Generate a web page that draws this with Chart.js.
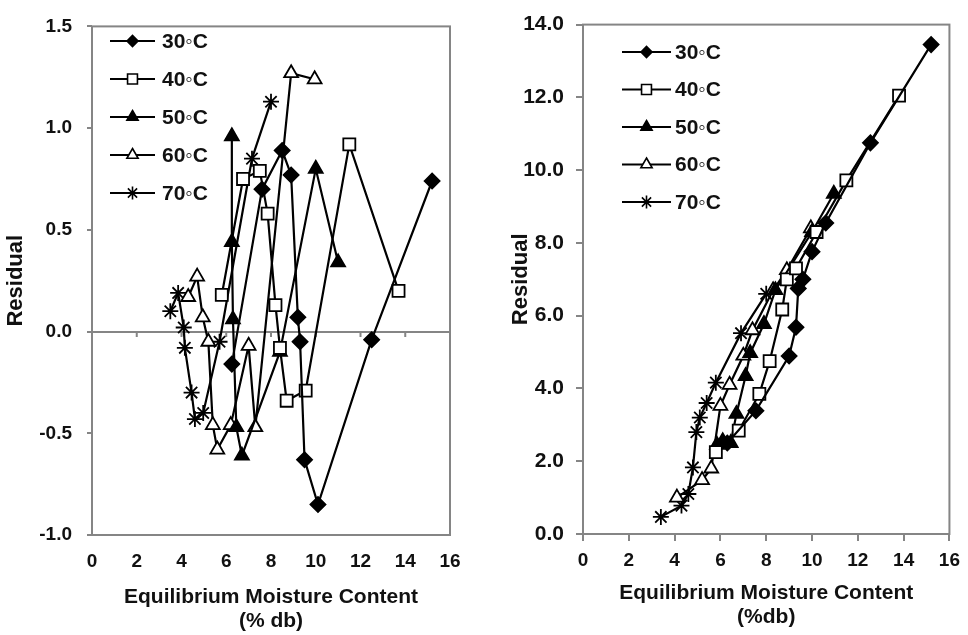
<!DOCTYPE html>
<html><head><meta charset="utf-8">
<script src="https://cdn.jsdelivr.net/npm/chart.js@4.4.1/dist/chart.umd.min.js"></script>
<style>
html,body{margin:0;padding:0;background:#fff;}
#wrap{position:relative;width:968px;height:635px;overflow:hidden;background:#fff;}
canvas{position:absolute;top:0;}
#c1{left:0}
#c2{left:484px}
</style></head><body>
<div id="wrap"><canvas id="c1" width="484" height="635"></canvas><canvas id="c2" width="484" height="635"></canvas></div>
<script>
// ---- labels / ticks ----
const seriesLabels = ['30\u25E6C', '40\u25E6C', '50\u25E6C', '60\u25E6C', '70\u25E6C'];
const xTitleLeft = ['Equilibrium Moisture Content', '(% db)'];
const xTitleRight = ['Equilibrium Moisture Content', '(%db)'];
const yTitle = 'Residual';

// ---- left panel: residuals ----
const resX30 = [6.25, 7.6, 8.5, 8.9, 9.2, 9.3, 9.5, 10.1, 12.5, 15.2];
const resY30 = [-0.16, 0.70, 0.89, 0.77, 0.07, -0.05, -0.63, -0.85, -0.04, 0.74];
const resX40 = [5.8, 6.75, 7.5, 7.85, 8.2, 8.4, 8.7, 9.55, 11.5, 13.7];
const resY40 = [0.18, 0.75, 0.79, 0.58, 0.13, -0.08, -0.34, -0.29, 0.92, 0.20];
const resX50 = [6.25, 6.25, 6.3, 6.45, 6.7, 8.4, 10.0, 11.0];
const resY50 = [0.96, 0.44, 0.06, -0.47, -0.61, -0.10, 0.80, 0.34];
const resX60 = [4.3, 4.7, 4.95, 5.2, 5.4, 5.6, 6.2, 7.0, 7.3, 8.9, 9.95];
const resY60 = [0.17, 0.27, 0.07, -0.05, -0.46, -0.58, -0.46, -0.07, -0.47, 1.27, 1.24];
const resX70 = [3.5, 3.85, 4.1, 4.15, 4.45, 4.6, 4.97, 5.7, 7.15, 8.0];
const resY70 = [0.10, 0.19, 0.02, -0.08, -0.30, -0.43, -0.40, -0.05, 0.85, 1.13];

// ---- right panel ----
const prX30 = [6.3, 7.55, 9.0, 9.3, 9.4, 9.6, 10.0, 10.6, 12.55, 15.2];
const prY30 = [2.5, 3.39, 4.89, 5.68, 6.75, 7.0, 7.76, 8.55, 10.75, 13.45];
const prX40 = [5.8, 6.8, 7.7, 8.15, 8.7, 8.9, 9.3, 10.2, 11.5, 13.8];
const prY40 = [2.25, 2.84, 3.85, 4.75, 6.17, 7.0, 7.3, 8.3, 9.72, 12.05];
const prX50 = [5.85, 6.1, 6.45, 6.7, 7.1, 7.3, 7.9, 8.4, 10.0, 10.95];
const prY50 = [2.45, 2.55, 2.5, 3.3, 4.34, 4.97, 5.77, 6.7, 8.3, 9.35];
const prX60 = [4.1, 5.2, 5.6, 6.0, 6.4, 7.0, 7.4, 8.3, 8.9, 9.95];
const prY60 = [1.0, 1.48, 1.8, 3.52, 4.1, 4.9, 5.6, 6.7, 7.25, 8.4];
const prX70 = [3.4, 4.3, 4.6, 4.8, 4.95, 5.1, 5.4, 5.8, 6.9, 8.0];
const prY70 = [0.47, 0.78, 1.1, 1.83, 2.8, 3.2, 3.6, 4.16, 5.52, 6.6];

// ---- styles ----
const FONT = '"Liberation Sans", Arial, sans-serif';
const INK = '#111';
const FRAME = '#858585';
const markerStyles = [
  {pointStyle: 'rectRot', radius: 7.5, bg: '#000', lr: 5.5},
  {pointStyle: 'rect', radius: 8.5, bg: '#fff', lr: 7},
  {pointStyle: 'triangle', radius: 8, bg: '#000', lr: 6.5},
  {pointStyle: 'triangle', radius: 8, bg: '#fff', lr: 6.5},
  {pointStyle: 'star', radius: 8, bg: '#000', lr: 6.5}
];

function pts(xs, ys) { return xs.map((x, i) => ({x: x, y: ys[i]})); }
function makeSets(pairs) {
  return pairs.map((p, i) => ({
    label: seriesLabels[i],
    data: pts(p[0], p[1]),
    showLine: true,
    borderColor: '#000',
    borderWidth: 2.2,
    pointStyle: markerStyles[i].pointStyle,
    pointRadius: markerStyles[i].radius,
    pointHoverRadius: markerStyles[i].radius,
    pointBackgroundColor: markerStyles[i].bg,
    pointBorderColor: '#000',
    pointBorderWidth: 1.8,
    legendRadius: markerStyles[i].lr,
    tension: 0
  }));
}

function drawMarker(ctx, style, r, x, y, bg) {
  ctx.save();
  ctx.fillStyle = bg; ctx.strokeStyle = '#000'; ctx.lineWidth = 1.6;
  ctx.beginPath();
  if (style === 'rectRot') {
    ctx.moveTo(x - r, y); ctx.lineTo(x, y - r); ctx.lineTo(x + r, y); ctx.lineTo(x, y + r); ctx.closePath();
    ctx.fill(); ctx.stroke();
  } else if (style === 'rect') {
    const s = r * Math.SQRT1_2;
    ctx.rect(x - s, y - s, 2 * s, 2 * s); ctx.fill(); ctx.stroke();
  } else if (style === 'triangle') {
    const a = 2 * Math.PI / 3;
    ctx.moveTo(x, y - r);
    ctx.lineTo(x + Math.sin(a) * r, y - Math.cos(a) * r);
    ctx.lineTo(x + Math.sin(2 * a) * r, y - Math.cos(2 * a) * r);
    ctx.closePath(); ctx.fill(); ctx.stroke();
  } else {
    ctx.moveTo(x, y - r); ctx.lineTo(x, y + r);
    ctx.moveTo(x - r, y); ctx.lineTo(x + r, y);
    const d = r * Math.SQRT1_2;
    ctx.moveTo(x - d, y - d); ctx.lineTo(x + d, y + d);
    ctx.moveTo(x - d, y + d); ctx.lineTo(x + d, y - d);
    ctx.stroke();
  }
  ctx.restore();
}

const framePlugin = {
  id: 'frame',
  beforeDatasetsDraw(chart, args, o) {
    const {ctx, chartArea: a, scales} = chart;
    ctx.save();
    ctx.strokeStyle = FRAME; ctx.lineWidth = 2;
    ctx.strokeRect(a.left, a.top, a.right - a.left, a.bottom - a.top);
    if (o.zeroLine) {
      const y0 = Math.round(scales.y.getPixelForValue(0));
      ctx.beginPath();
      ctx.moveTo(a.left, y0); ctx.lineTo(a.right, y0);
      scales.x.ticks.forEach(t => {
        const px = scales.x.getPixelForValue(t.value);
        ctx.moveTo(px, y0); ctx.lineTo(px, y0 + 5);
      });
      ctx.stroke();
    }
    ctx.restore();
  }
};

const legendPlugin = {
  id: 'boxLegend',
  afterDraw(chart, args, o) {
    const ctx = chart.ctx;
    chart.data.datasets.forEach((ds, i) => {
      const y = o.y0 + i * o.step;
      ctx.save();
      ctx.strokeStyle = '#000'; ctx.lineWidth = 2.2;
      ctx.beginPath(); ctx.moveTo(o.x1, y); ctx.lineTo(o.x2, y); ctx.stroke();
      drawMarker(ctx, ds.pointStyle, ds.legendRadius, (o.x1 + o.x2) / 2, y, ds.pointBackgroundColor);
      ctx.fillStyle = INK;
      ctx.font = 'bold 21px ' + FONT;
      ctx.textBaseline = 'middle';
      ctx.textAlign = 'left';
      ctx.fillText(ds.label, o.tx, y + 1);
      ctx.restore();
    });
  }
};

function makeChart(id, sets, c) {
  return new Chart(document.getElementById(id), {
    type: 'scatter',
    data: {datasets: sets},
    plugins: [framePlugin, legendPlugin],
    options: {
      responsive: false,
      animation: false,
      events: [],
      layout: {padding: {left: 0, right: c.padRight, top: c.top, bottom: 0}},
      plugins: {
        legend: {display: false},
        tooltip: {enabled: false},
        frame: {zeroLine: c.zeroLine},
        boxLegend: c.legend
      },
      scales: {
        x: {
          type: 'linear', min: 0, max: 16,
          afterFit: s => { s.height = c.xHeight; },
          ticks: {stepSize: 2, color: INK, padding: c.xTickPad,
                  font: {family: FONT, size: 19, weight: 'bold'},
                  callback: v => String(v)},
          grid: {display: c.xTicks, drawOnChartArea: false, drawTicks: c.xTicks, tickLength: 7, color: FRAME, lineWidth: 2},
          border: {display: false},
          title: {display: true, text: c.xTitle, color: INK,
                  font: {family: FONT, size: 21, weight: 'bold', lineHeight: 1.15},
                  padding: {top: 0, bottom: c.xTitlePad}}
        },
        y: {
          type: 'linear', min: c.yMin, max: c.yMax,
          afterFit: s => { s.width = c.yWidth; },
          ticks: {stepSize: c.yStep, color: INK, padding: c.yTickPad,
                  font: {family: FONT, size: c.yFont, weight: 'bold'},
                  callback: v => Number(v).toFixed(1)},
          grid: {drawOnChartArea: false, drawTicks: true, tickLength: c.yTickLen, color: FRAME, lineWidth: 2},
          border: {display: false},
          title: {display: true, text: yTitle, color: INK,
                  font: {family: FONT, size: 22, weight: 'bold', lineHeight: 1.2},
                  padding: {top: c.yTitlePad, bottom: 0}}
        }
      }
    }
  });
}

makeChart('c1', makeSets([[resX30, resY30], [resX40, resY40], [resX50, resY50], [resX60, resY60], [resX70, resY70]]), {
  padRight: 34, top: 17, xHeight: 100, yWidth: 92, zeroLine: true, xTicks: false,
  xTickPad: 15, xTitle: xTitleLeft, xTitlePad: 2,
  yMin: -1, yMax: 1.5, yStep: 0.5, yFont: 19, yTickPad: 15, yTickLen: 5, yTitlePad: 3,
  legend: {x1: 110, x2: 155, tx: 162, y0: 41, step: 38}
});

makeChart('c2', makeSets([[prX30, prY30], [prX40, prY40], [prX50, prY50], [prX60, prY60], [prX70, prY70]]), {
  padRight: 18, top: 22, xHeight: 101, yWidth: 99, zeroLine: false, xTicks: true,
  xTickPad: 8, xTitle: xTitleRight, xTitlePad: 6,
  yMin: 0, yMax: 14, yStep: 2, yFont: 21, yTickPad: 12, yTickLen: 7, yTitlePad: 24,
  legend: {x1: 138, x2: 187, tx: 191, y0: 52, step: 37.5}
});
</script>
</body></html>
